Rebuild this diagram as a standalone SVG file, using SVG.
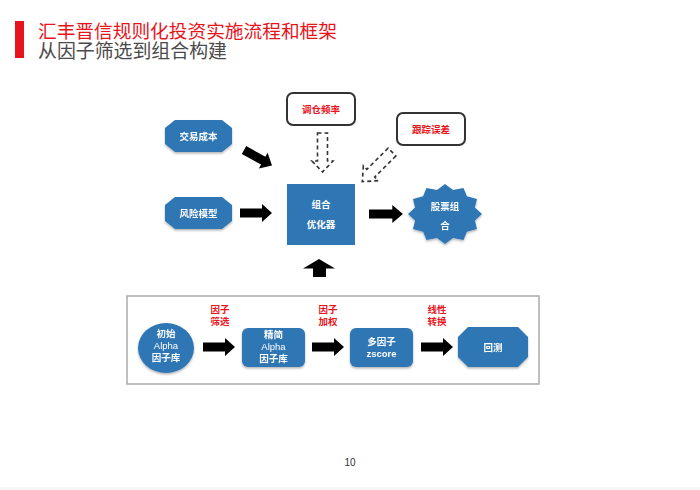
<svg xmlns="http://www.w3.org/2000/svg" xmlns:xlink="http://www.w3.org/1999/xlink" width="700" height="490" viewBox="0 0 700 490">
<style>
text{font-family:"Liberation Sans","Noto Sans CJK SC",sans-serif;text-anchor:middle}
.n{fill:#2F76B4}
.w{fill:#fff;font-size:9.5px;font-weight:bold}
.wl{fill:#fff;font-size:9.5px}
.r{fill:#E8141C;font-size:9.5px;font-weight:bold}
.box{fill:#fff;stroke:#333;stroke-width:2}
.blk{fill:#000}
.dash{fill:none;stroke:#333;stroke-width:1.6;stroke-dasharray:4 3}
</style>
<defs>
<path id="ar" d="M0,-4.5 L22,-4.5 L22,-9 L32,0 L22,9 L22,4.5 L0,4.5 Z"/>
<path id="dar" d="M0,-5.5 L30,-5.5 L30,-10.5 L42,0 L30,10.5 L30,5.5 L0,5.5 Z"/>
<filter id="sh" x="-20%" y="-20%" width="140%" height="150%"><feDropShadow dx="0" dy="1.5" stdDeviation="1.2" flood-color="#000" flood-opacity="0.3"/></filter>
</defs>
<rect width="700" height="490" fill="#fff"/>
<rect x="0" y="487" width="700" height="3" fill="#f6f6f6"/>
<g id="title">
<rect x="15" y="21" width="9" height="37" fill="#E8141C"/>
<text x="38" y="38" style="text-anchor:start;font-size:18.7px;fill:#E8141C">汇丰晋信规则化投资实施流程和框架</text>
<text x="38" y="58" style="text-anchor:start;font-size:18.9px;fill:#4a4a4a">从因子筛选到组合构建</text>
</g>
<g id="n_cost" filter="url(#sh)">
<polygon class="n" points="175,120 222,120 232,128 232,144 222,152 175,152 165,144 165,128"/>
<text class="w" x="198.5" y="139.5">交易成本</text>
</g>
<g id="n_risk" filter="url(#sh)">
<polygon class="n" points="175,197 222,197 232,205 232,221 222,229 175,229 165,221 165,205"/>
<text class="w" x="198.5" y="216.5">风险模型</text>
</g>
<g id="n_opt">
<rect class="n" x="287" y="184" width="68" height="61"/>
<text class="w" x="321" y="208">组合</text>
<text class="w" x="321" y="228">优化器</text>
</g>
<g id="n_freq">
<rect class="box" x="287" y="93" width="68" height="32" rx="6"/>
<text class="r" x="321" y="112.5">调仓频率</text>
</g>
<g id="n_track">
<rect class="box" x="397" y="113" width="68" height="32" rx="6"/>
<text class="r" x="431" y="132.5">跟踪误差</text>
</g>
<g id="n_port" filter="url(#sh)">
<polygon class="n" points="445,184 453,189.9 463.5,188 466.9,196.3 477,199 474.9,207.5 482,214 474.9,220.5 477,229 466.9,231.7 463.5,240 453,238.1 445,244 437,238.1 426.5,240 423.1,231.7 413,229 415.1,220.5 408,214 415.1,207.5 413,199 423.1,196.3 426.5,188 437,189.9"/>
<text class="w" x="445" y="210">股票组</text>
<text class="w" x="445" y="229">合</text>
</g>
<g id="n_frame">
<rect x="127" y="296" width="412" height="88" fill="none" stroke="#aaa" stroke-width="1.5"/>
</g>
<g id="n_init" filter="url(#sh)">
<ellipse class="n" cx="166" cy="348" rx="28" ry="25"/>
<text class="w" x="166" y="337">初始</text>
<text class="wl" x="166" y="349">Alpha</text>
<text class="w" x="166" y="361">因子库</text>
</g>
<g id="n_lean" filter="url(#sh)">
<rect class="n" x="242" y="328" width="63" height="39" rx="6"/>
<text class="w" x="273.5" y="338">精简</text>
<text class="wl" x="273.5" y="350">Alpha</text>
<text class="w" x="273.5" y="362">因子库</text>
</g>
<g id="n_multi" filter="url(#sh)">
<rect class="n" x="350" y="328" width="63" height="39" rx="6"/>
<text class="w" x="381.5" y="345">多因子</text>
<text class="w" x="381.5" y="357">zscore</text>
</g>
<g id="n_bt" filter="url(#sh)">
<polygon class="n" points="468,327 518,327 528,337 528,357 518,367 468,367 458,357 458,337"/>
<text class="w" x="493" y="350.5">回测</text>
</g>
<g id="labels">
<text class="r" x="220" y="313">因子</text>
<text class="r" x="220" y="325">筛选</text>
<text class="r" x="328" y="313">因子</text>
<text class="r" x="328" y="325">加权</text>
<text class="r" x="437" y="313">线性</text>
<text class="r" x="437" y="325">转换</text>
</g>
<g id="connectors">
<use xlink:href="#ar" class="blk" transform="translate(244,150) rotate(29)"/>
<use xlink:href="#ar" class="blk" transform="translate(240,213)"/>
<use xlink:href="#ar" class="blk" transform="translate(369,214) scale(1.06,1)"/>
<polygon class="blk" points="319,259 335,268.5 326,268.5 326,277 313,277 313,268.5 303,268.5"/>
<polygon class="dash" points="317.5,133 327.5,133 327.5,161 333,161 322.5,172 312,161 317.5,161"/>
<use xlink:href="#dar" class="dash" transform="translate(392,152) rotate(135)"/>
<use xlink:href="#ar" class="blk" transform="translate(203,347)"/>
<use xlink:href="#ar" class="blk" transform="translate(312,347)"/>
<use xlink:href="#ar" class="blk" transform="translate(421,347)"/>
</g>
<text x="350" y="466" style="font-size:10px;fill:#333">10</text>
</svg>
